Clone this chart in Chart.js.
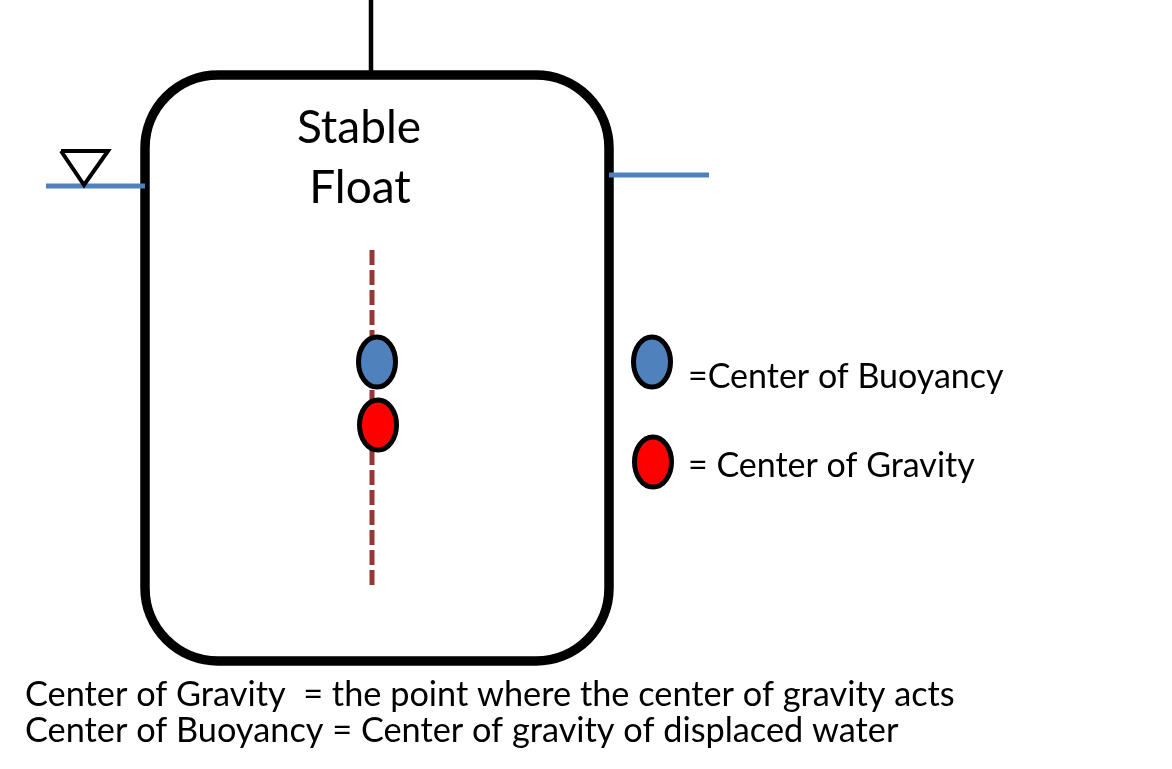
<!DOCTYPE html>
<html>
<head>
<meta charset="utf-8">
<title>Stable Float</title>
<script src="https://cdn.jsdelivr.net/npm/chart.js@4.4.0/dist/chart.umd.min.js"></script>
<style>
    html, body { margin: 0; padding: 0; background: #fff; }
    #wrap { width: 1172px; height: 769px; }
</style>
</head>
<body>
<div id="wrap"><canvas id="diagram" width="1172" height="769"></canvas></div>
<script>
// diagram units are the pixels of the picture, y counted downwards
const mastLine = [{x: 371, y: 0}, {x: 371, y: 75}];
const waterLeft = [{x: 46, y: 186}, {x: 145, y: 186}];
const waterRight = [{x: 609, y: 175}, {x: 709, y: 175}];
const waterMark = [{x: 61, y: 151}, {x: 108, y: 151}, {x: 84, y: 185}, {x: 61, y: 151}];
const centerLine = [{x: 372, y: 250}, {x: 372, y: 585}];
const floatCorners = [{x: 145, y: 75}, {x: 609, y: 661}];
const buoyancyPoints = [{x: 377, y: 362}, {x: 652, y: 362}];
const gravityPoints = [{x: 378, y: 425}, {x: 653, y: 462}];

const titleLines = ['Stable', 'Float'];
const titleAnchors = [{x: 359, y: 143}, {x: 360, y: 203}];
const legendLabels = ['=Center of Buoyancy', '= Center of Gravity'];
const legendAnchors = [{x: 688, y: 388}, {x: 688, y: 477}];
const noteLines = [
    'Center of Gravity  = the point where the center of gravity acts',
    'Center of Buoyancy = Center of gravity of displaced water'
];
const noteAnchors = [{x: 25, y: 706}, {x: 25, y: 742}];

const BLUE = '#4f81bd';
const RED = '#ff0000';
const BROWN = '#953735';
const FONT = 'Lato, "Open Sans", sans-serif';

function ellipseMarker(fill){
    const c = document.createElement('canvas');
    c.width = 48;
    c.height = 62;
    const g = c.getContext('2d');
    g.beginPath();
    g.ellipse(24, 31, 18.5, 25, 0, 0, Math.PI * 2);
    g.fillStyle = fill;
    g.fill();
    g.lineWidth = 5;
    g.strokeStyle = '#000';
    g.stroke();
    return c;
}

function segment(data, color, width, order, extra){
    return Object.assign({
        data,
        showLine: true,
        borderColor: color,
        borderWidth: width,
        borderCapStyle: 'butt',
        pointRadius: 0,
        fill: false,
        order
    }, extra || {});
}

// rounded float body, drawn under the datasets
const floatBody = {
    id: 'floatBody',
    beforeDatasetsDraw(chart){
        const {ctx, scales: {x, y}} = chart;
        const x0 = x.getPixelForValue(floatCorners[0].x);
        const y0 = y.getPixelForValue(floatCorners[0].y);
        const x1 = x.getPixelForValue(floatCorners[1].x);
        const y1 = y.getPixelForValue(floatCorners[1].y);
        ctx.save();
        ctx.beginPath();
        ctx.roundRect(x0, y0, x1 - x0, y1 - y0, 73);
        ctx.lineWidth = 9.5;
        ctx.strokeStyle = '#000';
        ctx.stroke();
        ctx.restore();
    }
};

const labels = {
    id: 'labels',
    afterDatasetsDraw(chart){
        const {ctx, scales: {x, y}} = chart;
        const put = (text, at, font, align) => {
            ctx.font = font;
            ctx.textAlign = align;
            ctx.fillText(text, x.getPixelForValue(at.x), y.getPixelForValue(at.y));
        };
        ctx.save();
        ctx.fillStyle = '#000';
        ctx.textBaseline = 'alphabetic';
        titleLines.forEach((t, i) => put(t, titleAnchors[i], `46px ${FONT}`, 'center'));
        legendLabels.forEach((t, i) => put(t, legendAnchors[i], `34px ${FONT}`, 'left'));
        noteLines.forEach((t, i) => put(t, noteAnchors[i], `34.3px ${FONT}`, 'left'));
        ctx.restore();
    }
};

new Chart(document.getElementById('diagram'), {
    type: 'scatter',
    data: {
        datasets: [
            {
                data: buoyancyPoints,
                pointStyle: ellipseMarker(BLUE),
                pointRadius: 25,
                order: 0
            },
            {
                data: gravityPoints,
                pointStyle: ellipseMarker(RED),
                pointRadius: 25,
                order: 0
            },
            segment(centerLine, BROWN, 5, 1, {borderDash: [15, 5]}),
            segment(mastLine, '#000', 4.5, 2),
            segment(waterLeft, BLUE, 5, 2),
            segment(waterRight, BLUE, 5, 2),
            segment(waterMark, '#000', 4, 1, {borderJoinStyle: 'miter'})
        ]
    },
    options: {
        responsive: false,
        animation: false,
        events: [],
        layout: {padding: 0, autoPadding: false},
        plugins: {legend: {display: false}, tooltip: {enabled: false}},
        scales: {
            x: {type: 'linear', min: 0, max: 1172, display: false},
            y: {type: 'linear', min: 0, max: 769, reverse: true, display: false}
        },
        datasets: {scatter: {clip: false}}
    },
    plugins: [floatBody, labels]
});
</script>
</body>
</html>
